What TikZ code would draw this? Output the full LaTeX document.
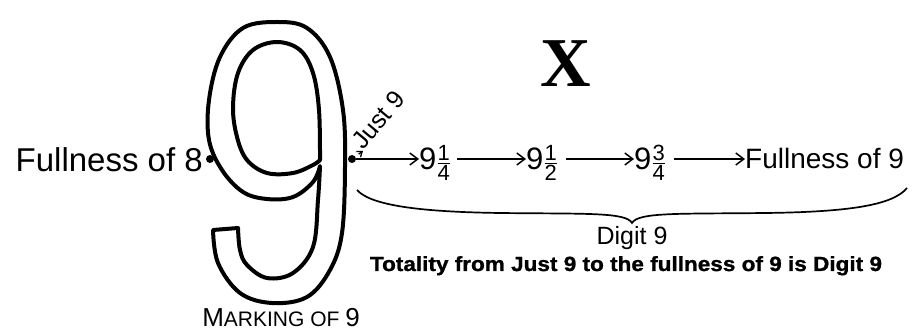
\documentclass[tikz,border=0pt]{standalone}
\usepackage{amsmath}
\usepackage{fontspec}
\setmainfont{Liberation Sans}
\newfontfamily\xfont{Liberation Serif}
\newfontfamily\widefont[FakeStretch=1.1,FakeBold=1.2]{Liberation Sans}
\usetikzlibrary{arrows.meta}

\newcommand{\ninefrac}[2]{9\ensuremath{\genfrac{}{}{1pt}{1}{\mbox{\fontsize{22}{24}\selectfont #1}}{\mbox{\fontsize{22}{24}\selectfont #2}}}}

\begin{document}
\begin{tikzpicture}[x=1pt, y=-1pt, >={Straight Barb[length=8pt,width=12pt]},
  every node/.style={inner sep=0pt},
  dot/.style={circle, fill, minimum size=8pt},
  stepline/.style={->, line width=1.5pt},
  outline/.style={line width=4pt, line join=round}]
\useasboundingbox (0,0) rectangle (916,331);
\draw[outline] plot[smooth, tension=0.6] coordinates {(320,166) (318,200) (313,247) (293,273) (267,278) (247,265) (240,250) (238,228)}
  -- plot[smooth, tension=0.6] coordinates {(213,230) (218,263) (240,293) (272,303) (307,297) (330,270) (342,233) (345,167) (343,110) (330,57) (307,28) (277,22) (243,28) (220,57) (209,100) (209,140) (222,170) (243,192) (267,199) (293,197) (313,182) (320,166)} -- cycle;
\draw[outline] plot[smooth, tension=0.6] coordinates {(320,160) (319,110) (313,73) (300,50) (277,42) (253,50) (238,73) (233,107) (237,137) (247,160) (267,173) (293,173) (313,165) (320,160)} -- cycle;
\node[dot] (d8) at (210,159) {};
\node[dot] (d9) at (352,159) {};
\node[anchor=base east, font=\fontsize{33}{38}\selectfont] (f8) at (203,172) {Fullness of 8};
\node[anchor=base west, rotate=50, font=\fontsize{25}{30}\selectfont] (just) at (363,151) {Just 9};
\draw[->, line width=1.3pt, >={Straight Barb[length=4.5pt,width=7pt]}, shorten <=4pt] (d9) -- (just.base west);
\node[font=\xfont\bfseries\fontsize{70}{74}\selectfont] (ex) at (566,64) {X};
\node[anchor=base west, font=\fontsize{31}{36}\selectfont] (q1) at (419,170) {\ninefrac{1}{4}};
\node[anchor=base west, font=\fontsize{31}{36}\selectfont] (q2) at (526,170) {\ninefrac{1}{2}};
\node[anchor=base west, font=\fontsize{31}{36}\selectfont] (q3) at (634,170) {\ninefrac{3}{4}};
\node[anchor=base west, font=\fontsize{28}{32}\selectfont] (f9) at (745,169) {Fullness of 9};
\draw[stepline] (d9) -- (d9 -| q1.west);
\draw[stepline] ([xshift=6pt]q1.east |- d9) -- (d9 -| q2.west);
\draw[stepline] ([xshift=8pt]q2.east |- d9) -- (d9 -| q3.west);
\draw[stepline] ([xshift=8pt]q3.east |- d9) -- (d9 -| f9.west);
\coordinate (bl) at (357,190);
\coordinate (bt) at (632,223);
\coordinate (br) at (907,188);
\draw[line width=1.7pt] (bl) .. controls (372,207) and (430,212) .. (500,213) .. controls (585,214) and (626,212) .. (bt)
  .. controls (638,212) and (680,214) .. (765,213) .. controls (850,212) and (893,205) .. (br);
\node[anchor=base, font=\fontsize{25}{28}\selectfont] (digit) at (632,244) {Digit 9};
\node[anchor=base, font=\widefont\bfseries\fontsize{20.5}{24}\selectfont] (total) at (626,271) {Totality from Just 9 to the fullness of 9 is Digit 9};
\node[anchor=base, font=\fontsize{21}{24}\selectfont] (mark) at (281,326) {{\fontsize{26}{28}\selectfont M}ARKING OF {\fontsize{26}{28}\selectfont 9}};
\end{tikzpicture}
\end{document}
